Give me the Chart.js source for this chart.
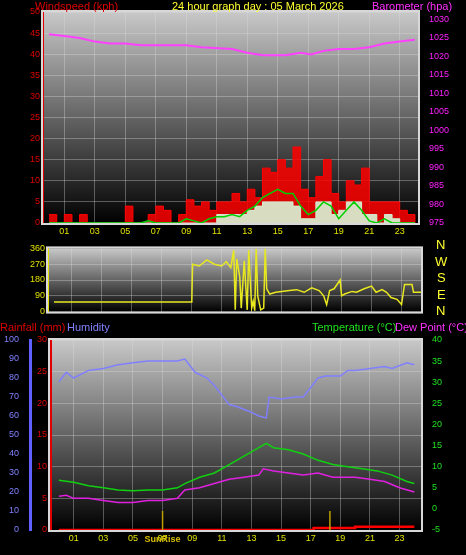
<!DOCTYPE html>
<html><head><meta charset="utf-8">
<script src="https://cdn.jsdelivr.net/npm/chart.js@4/dist/chart.umd.min.js"></script>
<style>
body{margin:0;background:#000;width:466px;height:555px;overflow:hidden;position:relative;font-family:"Liberation Sans",Arial,sans-serif}
canvas{position:absolute;left:0}
.t{position:absolute;font-size:11px;white-space:nowrap;line-height:12px}
</style></head><body>
<canvas id="c1" style="top:0px" width="466" height="240"></canvas>
<canvas id="c2" style="top:240px" width="466" height="80"></canvas>
<canvas id="c3" style="top:330px" width="466" height="225"></canvas>
<div class="t" style="left:35px;top:0;color:#e00000">Windspeed (kph)</div>
<div class="t" style="left:172px;top:0;color:#ffff30">24 hour graph day : 05 March 2026</div>
<div class="t" style="left:372px;top:0;color:#ff30ff">Barometer (hpa)</div>
<div class="t" style="left:0;top:321px;color:#e00000">Rainfall (mm)</div>
<div class="t" style="left:67px;top:321px;color:#8080ff">Humidity</div>
<div class="t" style="left:312px;top:321px;color:#20e020">Temperature (°C)</div>
<div class="t" style="left:395px;top:321px;color:#ff30ff">Dew Point (°C)</div>
<div class="t" style="left:436px;top:239px;color:#ffff30;font-size:13px">N</div>
<div class="t" style="left:435px;top:256px;color:#ffff30;font-size:13px">W</div>
<div class="t" style="left:437px;top:272px;color:#ffff30;font-size:13px">S</div>
<div class="t" style="left:437px;top:289px;color:#ffff30;font-size:13px">E</div>
<div class="t" style="left:436px;top:305px;color:#ffff30;font-size:13px">N</div>
<script>
const hours=[0,0.5,1,1.5,2,2.5,3,3.5,4,4.5,5,5.5,6,6.5,7,7.5,8,8.5,9,9.5,10,10.5,11,11.5,12,12.5,13,13.5,14,14.5,15,15.5,16,16.5,17,17.5,18,18.5,19,19.5,20,20.5,21,21.5,22,22.5,23,23.5,24];
const gust=[2,0,2,0,2,0,0,0,0,0,4,0,0,2,4,3,0,2,5.5,4,5,3,5,5,7,5,8,6,13,12,15,13,18,8,6,11,15,7,5,10,9,13,5,5,5,5,3,2,0];
const avgWind=[0,0,0,0,0,0,0,0,0,0,0,0,0,0.5,0,0,0,0,1,0.5,0,1,1.5,1.5,2,1.5,3,4,6,7,8,7,7,4,2,3,5,4,1,3,5,3,0.5,0,1,0,0,0,0];
const lull=[0,0,0,0,0,0,0,0,0,0,0,0,0,0,0,0,0,0,0,0,0,0,2,2,2,2,3,4,5,5,5,5,4,1,1,5,5,2,3,5,5,2,2,0,2,1,0,0,0];
const baroT=[0,1,2,3,4,5,6,9,10,12,13,14,15.5,16.5,17.2,18,19,20,21,22,23,24];
const baro=[1026,1025.5,1025,1024,1023.5,1023.5,1023,1023,1022.5,1022,1021,1020.3,1020.3,1021,1020.5,1021.5,1022,1022,1022.5,1023.5,1024,1024.5];
const dirT=[-0.2,9,9.05,9.5,10,10.5,11,11.3,11.6,11.8,11.9,12,12.2,12.3,12.5,12.7,12.8,13,13.1,13.2,13.3,13.4,13.6,13.8,13.9,14,14.2,14.6,15,15.5,16,16.5,17,17.5,17.8,18,18.2,18.5,18.9,19,19.2,19.7,20,20.5,21,21.3,21.7,22,22.3,22.7,22.9,23,23.2,23.7,23.8,24.5];
const dirV=[55,55,270,260,295,270,260,285,250,350,10,300,200,20,290,10,350,20,60,5,360,90,10,20,360,130,100,110,115,120,125,110,135,120,90,40,120,130,180,90,100,115,110,130,145,110,125,110,80,70,50,40,155,155,110,110];
const envT=[0,0.5,1,2,3,4,5,6,7,8,8.5,9.2,10,10.5,11.5,12,13,13.5,14,14.2,15,16,16.5,17.5,18,19,19.5,20,21,22,22.5,23.5,24];
const humidity=[78,83,80,84,85,87,88,89,89,89,90,83,80,76,66,65,62,60,59,70,69,70,70,80,81,81,84,84,85,86,85,88,87];
const tT=[0,1,2,3,4,5,6,7,8,8.5,9.5,10.5,11.5,12.5,13.5,14,14.5,15.5,16.5,17.5,18.5,19.5,20.5,21.5,22.5,23.5,24];
const temp=[6.8,6.3,5.5,5,4.5,4.3,4.5,4.5,5,6,7.5,8.5,10.5,12.5,14.5,15.5,14.5,14,13,11.5,10.5,10,9.5,9,8,6.5,6];
const dT=[0,0.5,1,2,3,4,5,6,7,8,8.5,9.5,10.5,11.5,12.5,13.5,13.8,14.5,15.5,16.5,17.5,18.5,20,21,22,23,24];
const dew=[3,3.2,2.5,2.5,2,1.5,1.5,2,2,2.5,4.5,5,6,7,7.5,8,9.5,9,8.5,8,8.5,7.5,7.5,7,6.5,5,4];
const rainT=[0,17.2,20,24];
const rain=[0,0.3,0.5,0.5];
const hourLabels={1:'01',3:'03',5:'05',7:'07',9:'09',11:'11',13:'13',15:'15',17:'17',19:'19',21:'21',23:'23'};
const sunTimes=[7.0,18.3];

const pts=(xs,ys)=>xs.map((x,i)=>({x,y:ys[i]}));
const bg={id:'bg',beforeDraw(c){const a=c.chartArea,g=c.ctx;const gr=g.createLinearGradient(0,a.top,0,a.bottom);gr.addColorStop(0,'#c8c8c8');gr.addColorStop(1,'#000');g.save();g.fillStyle=gr;g.fillRect(a.left,a.top,a.right-a.left,a.bottom-a.top);g.restore();},
 afterDraw(c){const a=c.chartArea,g=c.ctx;g.save();g.strokeStyle='#d8d8d8';g.lineWidth=2;g.strokeRect(a.left-1,a.top-1,a.right-a.left+2,a.bottom-a.top+2);g.restore();}};
const grid={color:'rgba(220,220,220,0.35)',borderDash:[2,2],drawTicks:false};
const tf=c=>({color:c,font:{size:9,family:'Liberation Sans'},padding:3,callback:v=>String(v)});
function xAxis(min,max,show){return {type:'linear',min,max,afterBuildTicks(s){s.ticks=[1,3,5,7,9,11,13,15,17,19,21,23].map(v=>({value:v}));},
 grid:{...grid},border:{display:false},ticks:{display:show,...tf('#e0e000'),callback:v=>hourLabels[v]||''},afterFit(s){s.height=show?17:0;}};}
const base={responsive:false,animation:false,plugins:{legend:{display:false},tooltip:{enabled:false}},elements:{point:{radius:0}}};

new Chart(document.getElementById('c1'),{type:'line',plugins:[bg],data:{datasets:[
 {data:pts(hours,lull),stepped:true,borderColor:'#d0f0d0',backgroundColor:'rgba(215,245,215,0.9)',fill:'origin',borderWidth:1,yAxisID:'y',order:1},
 {data:pts(hours,avgWind),borderColor:'#00d000',borderWidth:1.5,yAxisID:'y',order:0},
 {data:pts(hours,gust),stepped:true,borderColor:'#ff0000',backgroundColor:'rgba(255,0,0,0.85)',fill:'origin',borderWidth:1,yAxisID:'y',order:2},
 {data:pts(baroT,baro),borderColor:'#ff40ff',borderWidth:2,yAxisID:'y1',order:0}
]},options:{...base,layout:{padding:{top:12}},scales:{
 x:xAxis(-0.4,24.2,true),
 y:{position:'left',min:0,max:50,ticks:{...tf('#e00000'),stepSize:5},grid:{...grid},border:{color:'#e00000'},afterFit(s){s.width=43;}},
 y1:{position:'right',min:975,max:1032,afterBuildTicks(s){s.ticks=[975,980,985,990,995,1000,1005,1010,1015,1020,1025,1030].map(v=>({value:v}));},ticks:tf('#ff20ff'),grid:{display:false},border:{color:'#ff20ff'},afterFit(s){s.width=48;}}
}}});

new Chart(document.getElementById('c2'),{type:'line',plugins:[bg],data:{datasets:[
 {data:pts(dirT,dirV),borderColor:'#e8e820',borderWidth:1.5,yAxisID:'y'}
]},options:{...base,layout:{padding:{top:5,bottom:8}},scales:{
 x:{...xAxis(-0.6,24.3,false),display:true},
 y:{position:'left',min:0,max:360,afterBuildTicks(s){s.ticks=[0,90,180,270,360].map(v=>({value:v}));},ticks:tf('#e0e000'),grid:{...grid},border:{color:'#e0e000'},afterFit(s){s.width=48;}},
 y1:{position:'right',min:0,max:360,ticks:{display:false},grid:{display:false},border:{display:false},afterFit(s){s.width=45;}}
}}});

const sun={id:'sun',afterDatasetsDraw(c){const g=c.ctx,x=c.scales.x,a=c.chartArea;g.save();g.strokeStyle='#c0a000';g.lineWidth=1.5;
 sunTimes.forEach(t=>{const px=x.getPixelForValue(t);g.beginPath();g.moveTo(px,a.bottom-19);g.lineTo(px,a.bottom);g.stroke();});
 g.fillStyle='#d8c000';g.font='bold 9px Liberation Sans';g.textAlign='center';g.fillText('SunRise',x.getPixelForValue(sunTimes[0]),a.bottom+12);g.restore();}};
new Chart(document.getElementById('c3'),{type:'line',plugins:[bg,sun],data:{datasets:[
 {data:pts(envT,humidity),borderColor:'#8080ff',borderWidth:1.5,yAxisID:'yh'},
 {data:pts(tT,temp),borderColor:'#10d010',borderWidth:1.5,yAxisID:'yt'},
 {data:pts(dT,dew),borderColor:'#e020e0',borderWidth:1.5,yAxisID:'yt'},
 {data:pts(rainT,rain),stepped:true,borderColor:'#ff0000',borderWidth:2.5,yAxisID:'yr'}
]},options:{...base,layout:{padding:{top:10}},scales:{
 x:{...xAxis(-0.6,24.45,true),afterFit(s){s.height=25;}},
 yr:{position:'left',min:0,max:30,ticks:{...tf('#e00000'),stepSize:5},grid:{...grid},border:{color:'#e00000',width:3},afterFit(s){s.width=20;}},
 yh:{position:'left',min:0,max:100,ticks:{...tf('#8080ff'),stepSize:10},grid:{display:false},border:{color:'#6060ff',width:3},afterFit(s){s.width=30;}},
 yt:{position:'right',min:-5,max:40,ticks:{...tf('#20e020'),stepSize:5},grid:{display:false},border:{color:'#20e020'},afterFit(s){s.width=45;}}
}}});
</script></body></html>
